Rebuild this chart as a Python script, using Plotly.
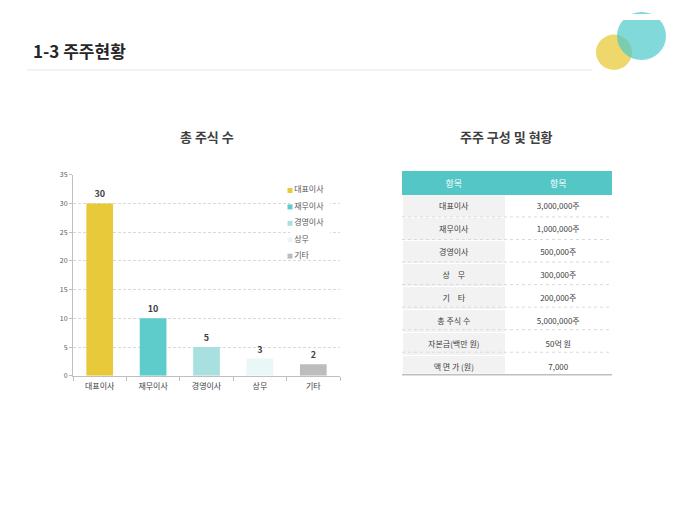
import plotly.graph_objects as go

# 총 주식 수 (bar chart)
positions = ["대표이사", "재무이사", "경영이사", "상무", "기타"]
shares = [30, 10, 5, 3, 2]
bar_colors = ["#E8C93A", "#5ECCCB", "#A8E0E0", "#EAF7F7", "#BDBDBD"]

# 주주 구성 및 현황 (table)
table_header = ["항목", "항목"]
table_items = ["대표이사", "재무이사", "경영이사", "상　무", "기　타",
               "총 주식 수", "자본금(백만 원)", "액 면 가 (원)"]
table_values = ["3,000,000주", "1,000,000주", "500,000주", "300,000주",
                "200,000주", "5,000,000주", "50억 원", "7,000"]

FONT = "Noto Sans CJK KR"
TEAL = "#55C6C6"
W, H = 680, 510
OFF = 8  # page margin of the html body


def px(x):
    return (x - OFF) / W


def py(y):
    return (H - (y - OFF)) / H


fig = go.Figure()

for name, val, col in zip(positions, shares, bar_colors):
    fig.add_trace(go.Bar(
        x=[name], y=[val], name=name,
        marker=dict(color=col, line=dict(width=0)),
        width=0.5,
        text=[val], texttemplate="<b>%{text}</b>",
        textposition="outside", cliponaxis=False,
        textfont=dict(size=9, color="#404040", family=FONT),
        showlegend=False,
    ))

# legend drawn as a small marker+text trace on its own axes
fig.add_trace(go.Scatter(
    x=[0] * len(positions), y=list(range(len(positions))),
    xaxis="x2", yaxis="y2", mode="markers+text",
    text=positions, textposition="middle right",
    textfont=dict(size=8, color="#595959", family=FONT),
    marker=dict(symbol="square", size=5, color=bar_colors),
    hoverinfo="skip", showlegend=False, cliponaxis=False,
))

n_rows = len(table_items)
tbl_top, row_h = 169, 23
tbl_bottom = tbl_top + row_h * (n_rows + 1)

fig.add_trace(go.Table(
    domain=dict(x=[px(402), px(612)], y=[py(tbl_bottom), py(tbl_top)]),
    columnwidth=[104, 106],
    header=dict(
        values=table_header, height=row_h,
        fill_color=TEAL, line=dict(color=TEAL, width=1),
        font=dict(size=9, color="white", family=FONT), align="center",
    ),
    cells=dict(
        values=[table_items, table_values], height=row_h,
        fill_color=[["#F2F2F2"] * n_rows, ["#FFFFFF"] * n_rows],
        line=dict(color="#FFFFFF", width=1),
        font=dict(size=8, color="#404040", family=FONT), align="center",
    ),
))

shapes = [
    # header underline
    dict(type="line", xref="paper", yref="paper", x0=px(27), x1=px(592),
         y0=py(65), y1=py(65), line=dict(color="#E3E7EE", width=1)),
    # decorative circles
    dict(type="circle", xref="paper", yref="paper",
         x0=px(596), x1=px(632), y0=py(65), y1=py(29),
         fillcolor="#E8C93A", opacity=0.75, line=dict(width=0), layer="below"),
    dict(type="circle", xref="paper", yref="paper",
         x0=px(617), x1=px(666), y0=py(55), y1=py(6),
         fillcolor="#4CC9C9", opacity=0.7, line=dict(width=0), layer="below"),
    dict(type="rect", xref="paper", yref="paper",
         x0=px(600), x1=1, y0=py(14), y1=1,
         fillcolor="white", line=dict(width=0), layer="below"),
    # white box behind the legend
    dict(type="rect", xref="paper", yref="paper",
         x0=px(283), x1=px(336), y0=py(263), y1=py(181),
         fillcolor="white", line=dict(width=0), layer="between"),
    # table bottom border
    dict(type="line", xref="paper", yref="paper", x0=px(402), x1=px(612),
         y0=py(tbl_bottom), y1=py(tbl_bottom), line=dict(color="#BFBFBF", width=1.5)),
]
# dotted row separators
for i in range(1, n_rows):
    yy = py(tbl_top + row_h * (i + 1))
    shapes.append(dict(type="line", xref="paper", yref="paper", x0=px(402), x1=px(612),
                       y0=yy, y1=yy, line=dict(color="#DADADA", width=1, dash="dot")))

fig.update_layout(
    width=W, height=H,
    margin=dict(l=0, r=0, t=0, b=0),
    paper_bgcolor="white", plot_bgcolor="white",
    font=dict(family=FONT),
    barmode="overlay",
    xaxis=dict(
        domain=[px(73), px(340)],
        showline=True, linecolor="#BFBFBF", linewidth=1,
        ticks="outside", tickson="boundaries", ticklen=4, tickcolor="#BFBFBF",
        ticklabelstandoff=3,
        tickfont=dict(size=8, color="#404040", family=FONT),
        showgrid=False,
    ),
    yaxis=dict(
        domain=[py(377), py(172)],
        range=[0, 35], dtick=5,
        showline=True, linecolor="#BFBFBF", linewidth=1,
        ticks="outside", ticklen=3, tickcolor="#BFBFBF",
        tickfont=dict(size=7, color="#595959", family=FONT),
        showgrid=True, gridcolor="#D9D9D9", griddash="3px,2px", gridwidth=1,
        zeroline=False,
    ),
    xaxis2=dict(domain=[px(290), px(330)], range=[0, 1], visible=False, fixedrange=True),
    yaxis2=dict(domain=[py(255), py(188)], range=[len(positions) - 1, 0],
                visible=False, fixedrange=True),
    annotations=[
        dict(text="<b>1-3 주주현황</b>", x=px(31), y=py(45), xref="paper", yref="paper",
             xanchor="left", yanchor="middle", showarrow=False,
             font=dict(size=17, color="#262626", family=FONT)),
        dict(text="<b>총 주식 수</b>", x=px(207), y=py(133), xref="paper", yref="paper",
             xanchor="center", yanchor="middle", showarrow=False,
             font=dict(size=13, color="#404040", family=FONT)),
        dict(text="<b>주주 구성 및 현황</b>", x=px(507), y=py(133), xref="paper", yref="paper",
             xanchor="center", yanchor="middle", showarrow=False,
             font=dict(size=13, color="#404040", family=FONT)),
    ],
    shapes=shapes,
)

fig.write_html("out.html")
